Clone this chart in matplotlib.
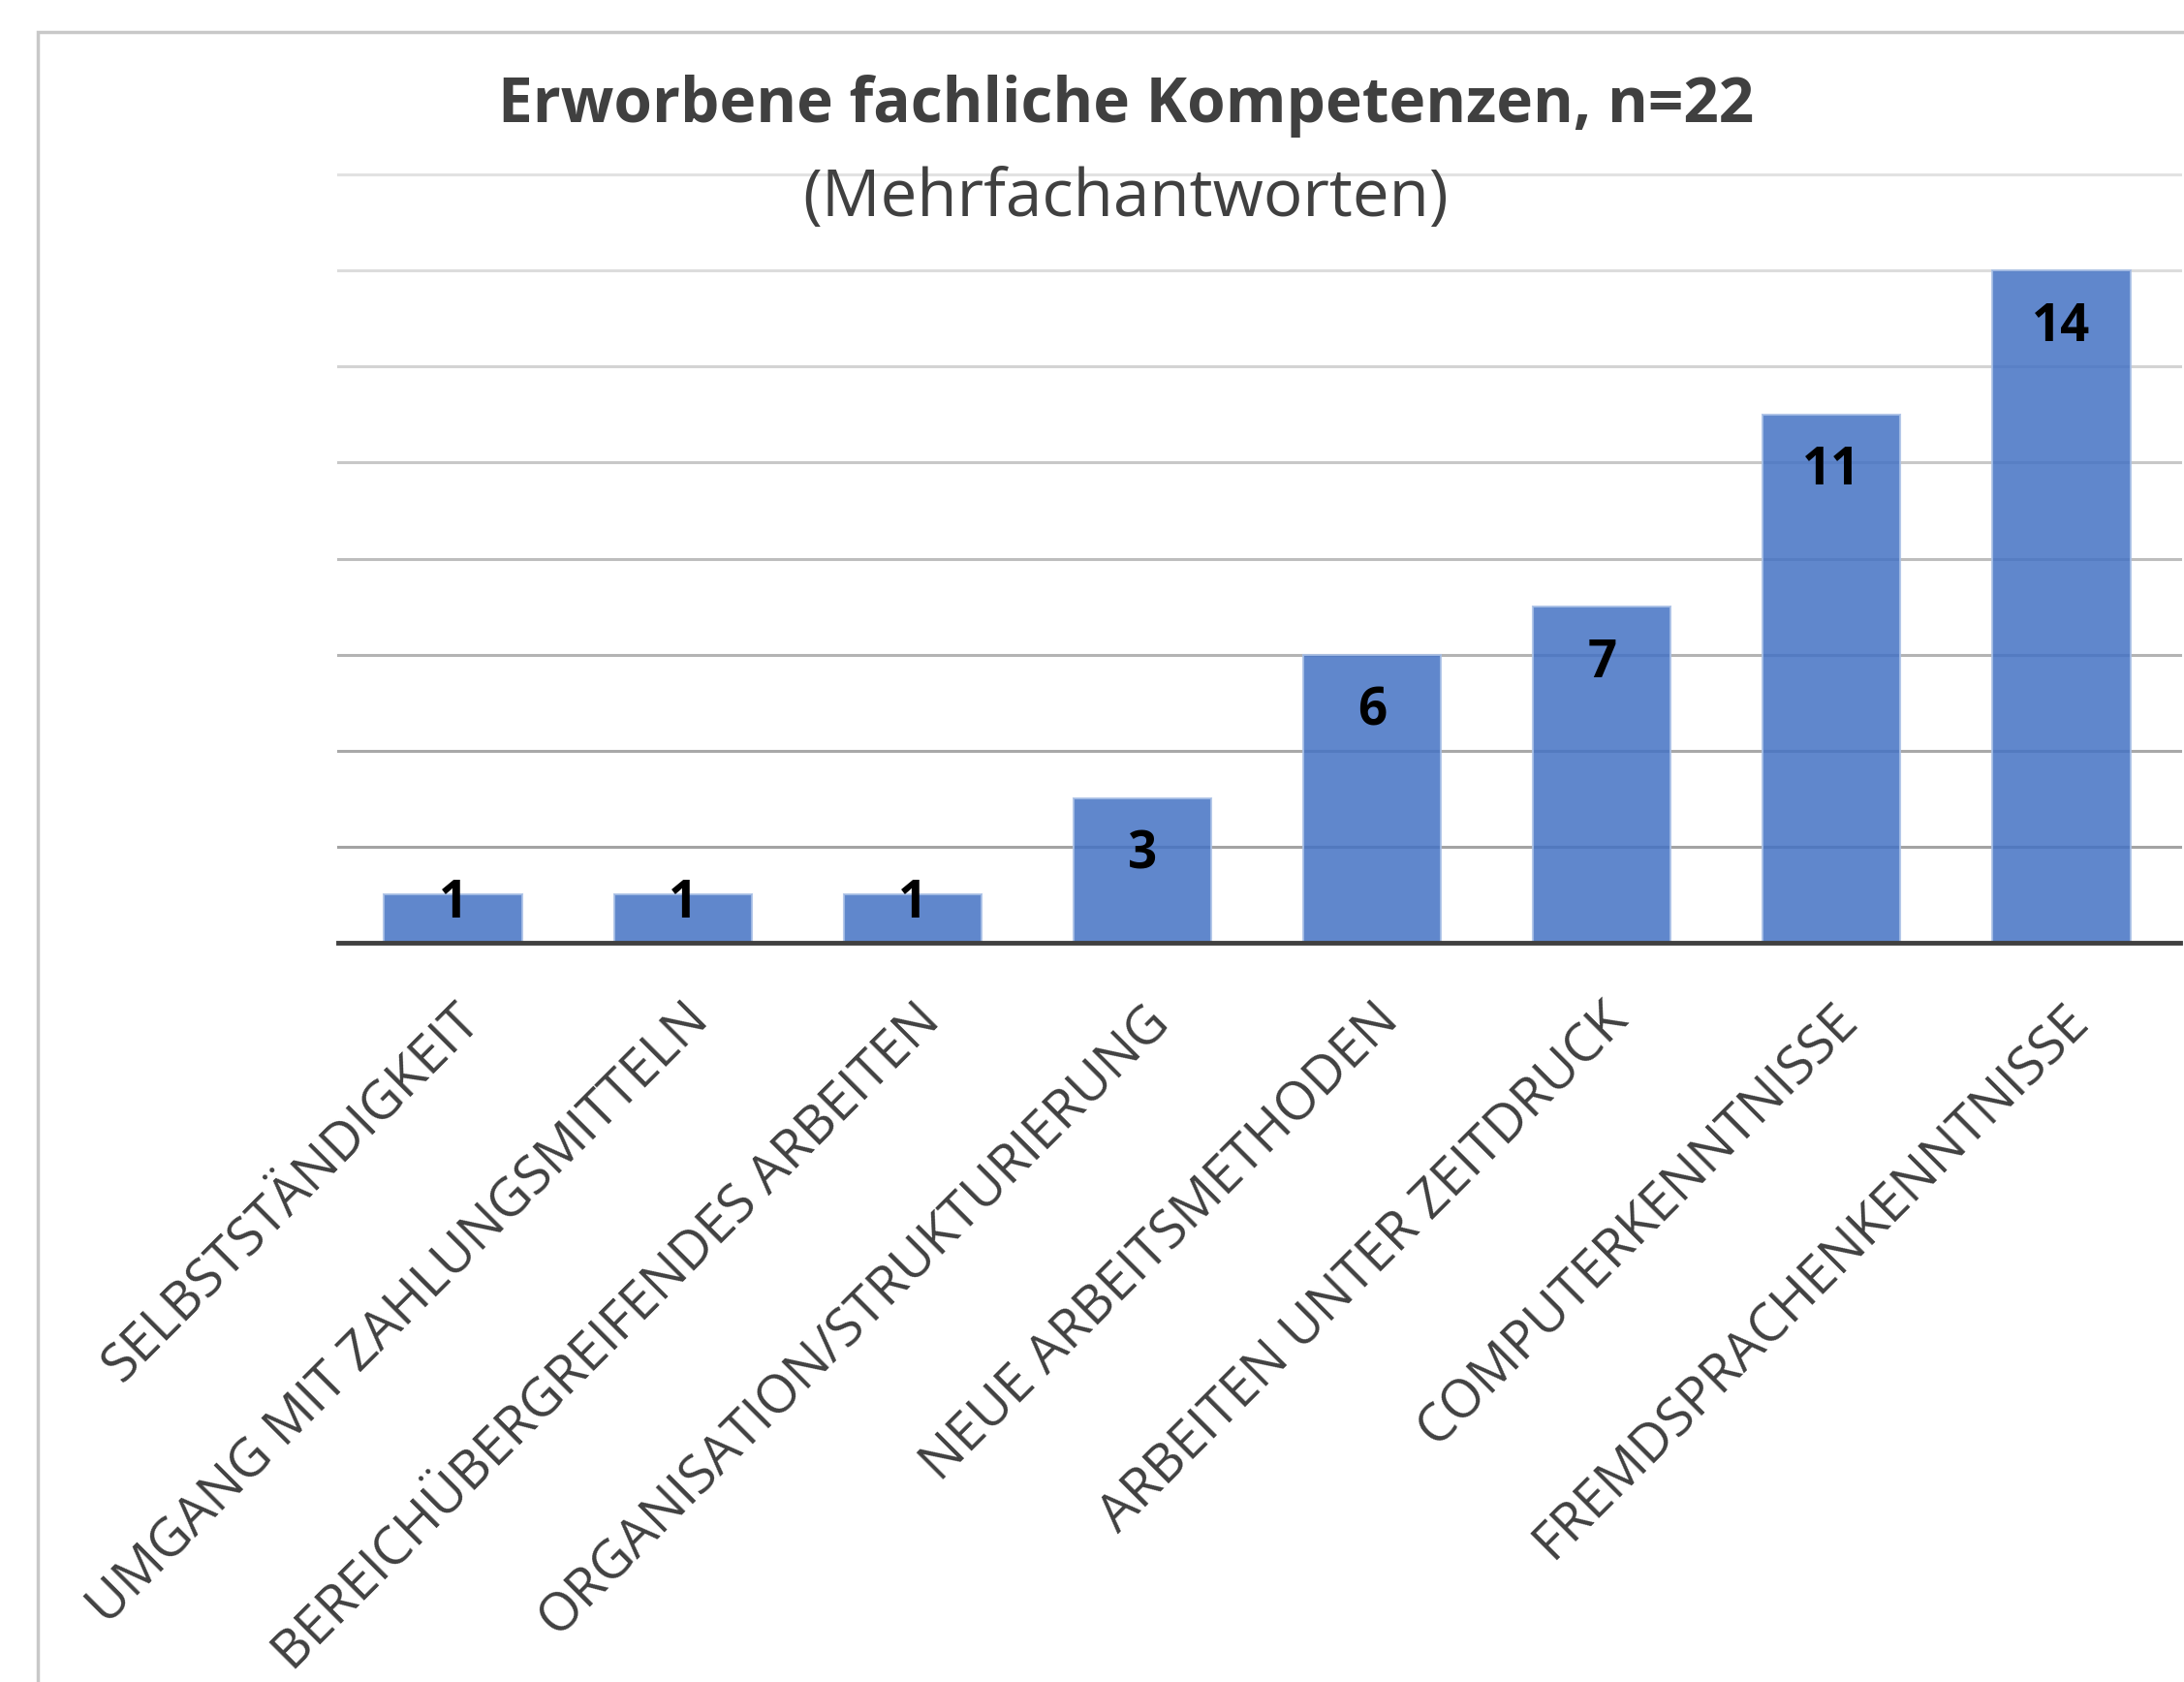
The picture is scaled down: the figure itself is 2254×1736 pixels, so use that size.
import matplotlib
matplotlib.use("Agg")
import matplotlib.pyplot as plt
from matplotlib.patches import Rectangle

categories = [
    "SELBSTSTÄNDIGKEIT",
    "UMGANG MIT ZAHLUNGSMITTELN",
    "BEREICHÜBERGREIFENDES ARBEITEN",
    "ORGANISATION/STRUKTURIERUNG",
    "NEUE ARBEITSMETHODEN",
    "ARBEITEN UNTER ZEITDRUCK",
    "COMPUTERKENNTNISSE",
    "FREMDSPRACHENKENNTNISSE",
]
values = [1, 1, 1, 3, 6, 7, 11, 14]
grid_levels = [2, 4, 6, 8, 10, 12, 14, 16]
title = "Erworbene fachliche Kompetenzen, n=22"
subtitle = "(Mehrfachantworten)"

plt.rcParams['font.family'] = ['Open Sans', 'DejaVu Sans']

W, H = 2254, 1736
fig = plt.figure(figsize=(W / 100, H / 100), dpi=100)
fig.patch.set_facecolor("white")

# outer border (chart area frame)
fig.patches.append(Rectangle((39 / W, -0.1), 1.2, (H - 33) / H + 0.1,
                             transform=fig.transFigure, fill=False,
                             edgecolor="#c8c8c8", linewidth=2.5))

ax = fig.add_axes([349 / W, (H - 973) / H, (2246 - 349) / W, (973 - 180) / H])
ax.set_xlim(-0.5, len(categories) - 0.5)
ax.set_ylim(0, 16)

grid_colors = ["#a3a3a3", "#a8a8a8", "#b3b3b3", "#bdbdbd", "#c8c8c8", "#d3d3d3", "#dcdcdc", "#e2e2e2"]
for g, c in zip(grid_levels, grid_colors):
    ax.axhline(g, color=c, linewidth=2.2, zorder=1, xmin=0, xmax=1.002, clip_on=False)

x = list(range(len(categories)))
ax.bar(x, values, width=0.6, color="#4472C4", alpha=0.85, edgecolor="#a9c0e6",
       linewidth=1.5, zorder=2)
ax.axhline(0, color="#404040", linewidth=3.5, zorder=3, xmax=1.002, clip_on=False)

for xi, v in zip(x, values):
    ypos = max(v - 1.18, 0.8)
    ax.text(xi, ypos, str(v), ha="center", va="center", fontsize=38,
            fontweight="bold", color="black", zorder=4)

for s in ax.spines.values():
    s.set_visible(False)
ax.set_yticks([])
ax.set_xticks(x)
ax.set_xticklabels(categories, rotation=45, ha="right", va="top",
                   rotation_mode="anchor", fontsize=39.5, color="#404040")
ax.tick_params(axis="x", length=0, pad=38)

fig.text(1162 / W, 1 - 110 / H, title, ha="center", va="center", fontsize=46,
         fontweight="bold", color="#404040")
fig.text(1162 / W, 1 - 205 / H, subtitle, ha="center", va="center", fontsize=48.5,
         color="#404040")

fig.savefig("out.png", dpi=100, facecolor="white")
